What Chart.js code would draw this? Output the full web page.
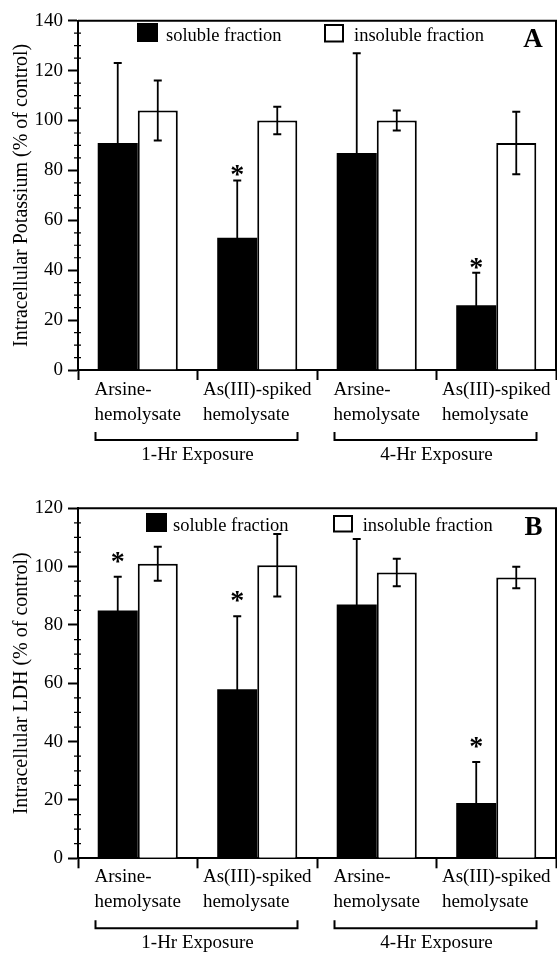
<!DOCTYPE html>
<html>
<head>
<meta charset="utf-8">
<script src="https://cdn.jsdelivr.net/npm/chart.js@4.4.0/dist/chart.umd.min.js"></script>
<style>
  html, body { margin: 0; padding: 0; background: #fff; }
  #wrap { position: relative; width: 557px; height: 955px; }
  .panel { position: absolute; left: 0; width: 557px; }
  #panelA { top: 0; height: 478px; }
  #panelB { top: 478px; height: 477px; }
</style>
</head>
<body>
<div id="wrap">
  <div class="panel" id="panelA"><canvas id="chartA"></canvas></div>
  <div class="panel" id="panelB"><canvas id="chartB"></canvas></div>
</div>
<script>
const categories = [["Arsine-", "hemolysate"], ["As(III)-spiked", "hemolysate"], ["Arsine-", "hemolysate"], ["As(III)-spiked", "hemolysate"]];
const exposureGroups = ["1-Hr Exposure", "4-Hr Exposure"];
const seriesNames = ["soluble fraction", "insoluble fraction"];

// panel A - intracellular potassium
const potassiumSoluble = [91, 53, 87, 26];
const potassiumSolubleErr = [32, 23, 40, 13];
const potassiumInsoluble = [104, 100, 100, 91];
const potassiumInsolubleErr = [12, 5.5, 4, 12.5];
const potassiumSignificant = [false, true, false, true];
const potassiumTicks = [0, 20, 40, 60, 80, 100, 120, 140];

// panel B - intracellular LDH
const ldhSoluble = [85, 58, 87, 19];
const ldhSolubleErr = [11.5, 25, 22.5, 14];
const ldhInsoluble = [101, 100.5, 98, 96.3];
const ldhInsolubleErr = [5.8, 10.7, 4.7, 3.7];
const ldhSignificant = [true, true, false, true];
const ldhTicks = [0, 20, 40, 60, 80, 100, 120];

const FONT = "Liberation Serif";

const decor = {
  id: "decor",
  afterDatasetsDraw(chart, args, o) {
    const ctx = chart.ctx;
    const { left, right, top, bottom } = chart.chartArea;
    const x = chart.scales.x, y = chart.scales.y;
    ctx.save();
    ctx.strokeStyle = "#000";
    ctx.fillStyle = "#000";

    // top and right frame
    ctx.lineWidth = 2;
    ctx.beginPath();
    ctx.moveTo(left, top);
    ctx.lineTo(right, top);
    ctx.lineTo(right, bottom);
    ctx.stroke();

    // minor ticks every 5
    ctx.lineWidth = 1.2;
    ctx.beginPath();
    for (let v = y.min + 5; v < y.max; v += 5) {
      if (v % 20 === 0) continue;
      const py = y.getPixelForValue(v);
      ctx.moveTo(left - 4, py);
      ctx.lineTo(left + 3, py);
    }
    ctx.stroke();

    // error bars
    o.errors.forEach((errs, di) => {
      const vals = chart.data.datasets[di].data;
      chart.getDatasetMeta(di).data.forEach((bar, i) => {
        const hi = y.getPixelForValue(vals[i] + errs[i]);
        const lo = y.getPixelForValue(vals[i] - errs[i]);
        ctx.lineWidth = 1.8;
        ctx.beginPath();
        ctx.moveTo(bar.x, lo);
        ctx.lineTo(bar.x, hi);
        ctx.stroke();
        ctx.lineWidth = 2;
        ctx.beginPath();
        ctx.moveTo(bar.x - 4, hi);
        ctx.lineTo(bar.x + 4, hi);
        ctx.moveTo(bar.x - 4, lo);
        ctx.lineTo(bar.x + 4, lo);
        ctx.stroke();
      });
    });

    // significance stars
    const sol = chart.data.datasets[0].data;
    const solMeta = chart.getDatasetMeta(0);
    ctx.font = "bold 28px '" + FONT + "'";
    ctx.textAlign = "center";
    ctx.textBaseline = "alphabetic";
    o.significant.forEach((s, i) => {
      if (!s) return;
      const cy = y.getPixelForValue(sol[i] + o.errors[0][i]) - o.starGap;
      ctx.fillText("*", solMeta.data[i].x, cy + 13);
    });

    // legend
    const lg = o.legend;
    ctx.fillRect(lg.box1[0], lg.box1[1], lg.box1[2], lg.box1[3]);
    ctx.fillStyle = "#fff";
    ctx.fillRect(lg.box2[0], lg.box2[1], lg.box2[2], lg.box2[3]);
    ctx.fillStyle = "#000";
    ctx.lineWidth = 2;
    ctx.strokeRect(lg.box2[0] + 1, lg.box2[1] + 1, lg.box2[2] - 2, lg.box2[3] - 2);
    ctx.font = "18.5px '" + FONT + "'";
    ctx.textAlign = "left";
    ctx.fillText(seriesNames[0], lg.text1[0], lg.text1[1]);
    ctx.fillText(seriesNames[1], lg.text2[0], lg.text2[1]);

    // panel letter
    ctx.font = "bold 27px '" + FONT + "'";
    ctx.textAlign = "center";
    ctx.fillText(o.letter, o.letterPos[0], o.letterPos[1]);

    // category labels, lines left aligned in a centred block
    ctx.font = "19px '" + FONT + "'";
    ctx.textBaseline = "middle";
    categories.forEach((lines, i) => {
      const xc = x.getPixelForValue(i);
      const w = Math.max(...lines.map(t => ctx.measureText(t).width));
      ctx.textAlign = "left";
      lines.forEach((t, k) => ctx.fillText(t, xc - w / 2, bottom + o.lineOffsets[k]));
    });

    // exposure brackets and labels
    exposureGroups.forEach((g, gi) => {
      const xa = x.getPixelForValue(gi * 2), xb = x.getPixelForValue(gi * 2 + 1);
      const xc = (xa + xb) / 2;
      const x0 = xc - 102, x1 = xc + 100;
      ctx.lineWidth = 2;
      ctx.beginPath();
      ctx.moveTo(x0, bottom + o.bracket[0]);
      ctx.lineTo(x0, bottom + o.bracket[1]);
      ctx.lineTo(x1, bottom + o.bracket[1]);
      ctx.lineTo(x1, bottom + o.bracket[0]);
      ctx.stroke();
      ctx.textAlign = "center";
      ctx.fillText(g, xc, bottom + o.groupOffset);
    });
    ctx.restore();
  }
};

function makePanel(canvasId, cfg) {
  return new Chart(document.getElementById(canvasId), {
    type: "bar",
    data: {
      labels: categories.map(c => c.join(" ")),
      datasets: [
        { label: seriesNames[0], data: cfg.soluble, backgroundColor: "#000", borderColor: "#000", borderWidth: 0 },
        { label: seriesNames[1], data: cfg.insoluble, backgroundColor: "#fff", borderColor: "#000", borderWidth: 2 }
      ]
    },
    options: {
      responsive: true,
      maintainAspectRatio: false,
      animation: false,
      datasets: { bar: { categoryPercentage: 0.67, barPercentage: 1 } },
      layout: { padding: { top: cfg.padTop, right: 1, left: 0, bottom: 0 } },
      plugins: {
        legend: { display: false },
        tooltip: { enabled: false },
        decor: {
          errors: [cfg.solubleErr, cfg.insolubleErr],
          significant: cfg.significant,
          starGap: cfg.starGap,
          legend: cfg.legend,
          letter: cfg.letter,
          letterPos: cfg.letterPos,
          lineOffsets: cfg.lineOffsets,
          bracket: cfg.bracket,
          groupOffset: cfg.groupOffset
        }
      },
      scales: {
        x: {
          grid: { offset: true, drawOnChartArea: false, tickLength: 10, tickWidth: 2, tickColor: "#000" },
          border: { display: true, width: 2, color: "#000" },
          ticks: { display: false },
          afterFit: s => { s.height = cfg.bottomH; }
        },
        y: {
          min: cfg.ticks[0],
          max: cfg.ticks[cfg.ticks.length - 1],
          afterBuildTicks: s => { s.ticks = cfg.ticks.map(v => ({ value: v })); },
          ticks: { padding: 5, color: "#000", font: { family: FONT, size: 19 } },
          grid: { drawOnChartArea: false, tickLength: 10, tickWidth: 2, tickColor: "#000" },
          border: { display: true, width: 2, color: "#000" },
          title: { display: true, text: cfg.title, color: "#000", font: { family: FONT, size: 20 }, padding: { top: 10, bottom: 0 } },
          afterFit: s => { s.width = 78; }
        }
      }
    },
    plugins: [decor]
  });
}

makePanel("chartA", {
  soluble: potassiumSoluble, solubleErr: potassiumSolubleErr,
  insoluble: potassiumInsoluble, insolubleErr: potassiumInsolubleErr,
  significant: potassiumSignificant, ticks: potassiumTicks,
  title: "Intracellular Potassium (% of control)",
  padTop: 20.7, bottomH: 108, starGap: 10,
  legend: { box1: [137, 23, 21, 19], box2: [324, 24, 20, 18.5], text1: [166, 40.5], text2: [354, 40.5] },
  letter: "A", letterPos: [533, 47],
  lineOffsets: [20, 45], bracket: [62, 70], groupOffset: 85
});

makePanel("chartB", {
  soluble: ldhSoluble, solubleErr: ldhSolubleErr,
  insoluble: ldhInsoluble, insolubleErr: ldhInsolubleErr,
  significant: ldhSignificant, ticks: ldhTicks,
  title: "Intracellular LDH (% of control)",
  padTop: 30.3, bottomH: 96.7, starGap: 20,
  legend: { box1: [146, 35, 21, 19], box2: [333, 37, 20, 17.5], text1: [173, 53], text2: [362.7, 53] },
  letter: "B", letterPos: [533.5, 57],
  lineOffsets: [19, 44], bracket: [62, 70], groupOffset: 85
});
</script>
</body>
</html>
